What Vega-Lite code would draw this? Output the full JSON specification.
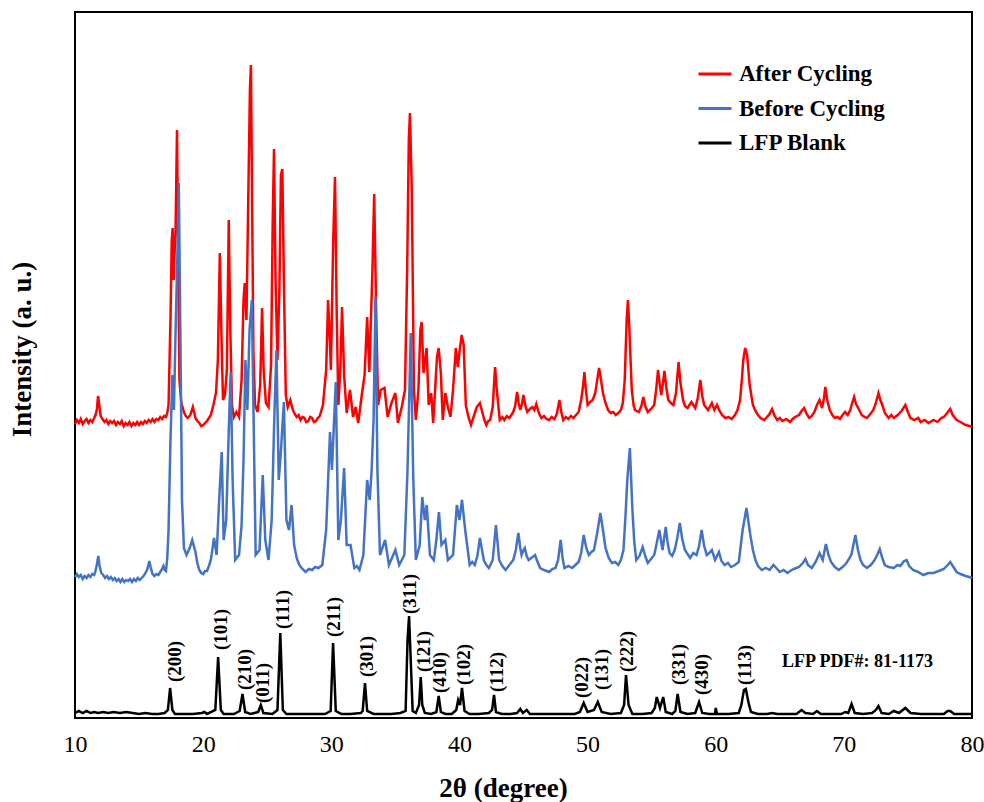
{
 "$schema": "https://vega.github.io/schema/vega-lite/v6.json",
 "width": 897,
 "height": 706,
 "autosize": "none",
 "padding": {"left": 75, "top": 12, "right": 12, "bottom": 84},
 "background": "white",
 "config": {"view": {"stroke": "black", "strokeWidth": 2}, "font": "Liberation Serif", "axis": {"grid": false}},
 "datasets": {
  "red": [
   {"x":10.0,"y":294},{"x":10.15,"y":298},{"x":10.3,"y":295},{"x":10.45,"y":299},{"x":10.6,"y":294},{"x":10.75,"y":297},{"x":10.9,"y":299},{"x":11.05,"y":295},{"x":11.2,"y":298},{"x":11.35,"y":296},{"x":11.5,"y":300},{"x":11.6,"y":303},{"x":11.7,"y":308},{"x":11.8,"y":322},{"x":11.9,"y":312},{"x":12.0,"y":302},{"x":12.15,"y":299},{"x":12.3,"y":296},{"x":12.45,"y":298},{"x":12.6,"y":294},{"x":12.75,"y":297},{"x":12.9,"y":295},{"x":13.05,"y":297},{"x":13.2,"y":293},{"x":13.35,"y":296},{"x":13.5,"y":294},{"x":13.65,"y":297},{"x":13.8,"y":292},{"x":13.95,"y":295},{"x":14.1,"y":293},{"x":14.25,"y":296},{"x":14.4,"y":292},{"x":14.55,"y":295},{"x":14.7,"y":293},{"x":14.85,"y":296},{"x":15.0,"y":293},{"x":15.15,"y":296},{"x":15.3,"y":294},{"x":15.45,"y":297},{"x":15.6,"y":295},{"x":15.75,"y":298},{"x":15.9,"y":296},{"x":16.05,"y":299},{"x":16.2,"y":296},{"x":16.35,"y":299},{"x":16.5,"y":298},{"x":16.65,"y":301},{"x":16.8,"y":299},{"x":16.95,"y":302},{"x":17.1,"y":301},{"x":17.2,"y":305},{"x":17.3,"y":313},{"x":17.45,"y":398},{"x":17.55,"y":478},{"x":17.62,"y":490},{"x":17.7,"y":438},{"x":17.78,"y":468},{"x":17.85,"y":488},{"x":17.96,"y":588},{"x":18.05,"y":468},{"x":18.15,"y":338},{"x":18.3,"y":315},{"x":18.5,"y":306},{"x":18.65,"y":302},{"x":18.8,"y":300},{"x":19.0,"y":303},{"x":19.2,"y":311},{"x":19.4,"y":300},{"x":19.55,"y":297},{"x":19.7,"y":295},{"x":19.85,"y":292},{"x":20.0,"y":293},{"x":20.15,"y":295},{"x":20.3,"y":297},{"x":20.45,"y":300},{"x":20.6,"y":303},{"x":20.8,"y":313},{"x":21.0,"y":325},{"x":21.15,"y":358},{"x":21.3,"y":465},{"x":21.42,"y":388},{"x":21.55,"y":318},{"x":21.7,"y":323},{"x":21.85,"y":348},{"x":22.0,"y":498},{"x":22.12,"y":388},{"x":22.25,"y":313},{"x":22.4,"y":301},{"x":22.6,"y":306},{"x":22.8,"y":301},{"x":23.0,"y":338},{"x":23.15,"y":418},{"x":23.25,"y":435},{"x":23.38,"y":398},{"x":23.52,"y":518},{"x":23.65,"y":628},{"x":23.73,"y":653},{"x":23.82,"y":518},{"x":23.92,"y":368},{"x":24.05,"y":313},{"x":24.25,"y":306},{"x":24.45,"y":333},{"x":24.6,"y":410},{"x":24.72,"y":348},{"x":24.9,"y":315},{"x":25.1,"y":311},{"x":25.3,"y":353},{"x":25.43,"y":498},{"x":25.53,"y":569},{"x":25.65,"y":438},{"x":25.8,"y":358},{"x":25.95,"y":428},{"x":26.07,"y":543},{"x":26.18,"y":549},{"x":26.3,"y":438},{"x":26.45,"y":323},{"x":26.6,"y":311},{"x":26.8,"y":318},{"x":27.0,"y":308},{"x":27.15,"y":304},{"x":27.3,"y":301},{"x":27.45,"y":303},{"x":27.6,"y":298},{"x":27.75,"y":301},{"x":27.9,"y":300},{"x":28.05,"y":296},{"x":28.2,"y":297},{"x":28.35,"y":301},{"x":28.5,"y":300},{"x":28.65,"y":296},{"x":28.8,"y":297},{"x":28.95,"y":300},{"x":29.1,"y":302},{"x":29.35,"y":313},{"x":29.6,"y":348},{"x":29.75,"y":418},{"x":29.87,"y":383},{"x":29.97,"y":348},{"x":30.15,"y":478},{"x":30.29,"y":541},{"x":30.42,"y":408},{"x":30.55,"y":313},{"x":30.7,"y":348},{"x":30.84,"y":411},{"x":31.0,"y":343},{"x":31.2,"y":305},{"x":31.46,"y":328},{"x":31.7,"y":301},{"x":31.9,"y":311},{"x":32.1,"y":295},{"x":32.4,"y":325},{"x":32.6,"y":343},{"x":32.8,"y":401},{"x":32.97,"y":346},{"x":33.2,"y":443},{"x":33.35,"y":524},{"x":33.5,"y":408},{"x":33.65,"y":313},{"x":33.85,"y":328},{"x":34.15,"y":330},{"x":34.4,"y":301},{"x":34.7,"y":315},{"x":35.0,"y":325},{"x":35.2,"y":295},{"x":35.5,"y":311},{"x":35.75,"y":328},{"x":35.92,"y":448},{"x":36.05,"y":578},{"x":36.14,"y":605},{"x":36.28,"y":528},{"x":36.45,"y":328},{"x":36.6,"y":298},{"x":36.8,"y":328},{"x":36.95,"y":388},{"x":37.05,"y":396},{"x":37.2,"y":345},{"x":37.44,"y":370},{"x":37.6,"y":313},{"x":37.8,"y":325},{"x":37.95,"y":295},{"x":38.1,"y":328},{"x":38.25,"y":361},{"x":38.38,"y":370},{"x":38.55,"y":345},{"x":38.7,"y":298},{"x":38.9,"y":325},{"x":39.1,"y":311},{"x":39.3,"y":301},{"x":39.5,"y":328},{"x":39.72,"y":370},{"x":39.87,"y":351},{"x":40.02,"y":368},{"x":40.18,"y":383},{"x":40.33,"y":373},{"x":40.5,"y":313},{"x":40.7,"y":301},{"x":40.9,"y":293},{"x":41.1,"y":301},{"x":41.35,"y":311},{"x":41.6,"y":315},{"x":41.8,"y":305},{"x":41.95,"y":298},{"x":42.1,"y":293},{"x":42.25,"y":297},{"x":42.4,"y":298},{"x":42.6,"y":311},{"x":42.78,"y":351},{"x":42.95,"y":323},{"x":43.15,"y":298},{"x":43.35,"y":301},{"x":43.5,"y":298},{"x":43.7,"y":302},{"x":43.9,"y":300},{"x":44.05,"y":303},{"x":44.2,"y":306},{"x":44.35,"y":312},{"x":44.5,"y":326},{"x":44.62,"y":315},{"x":44.75,"y":308},{"x":44.88,"y":314},{"x":45.0,"y":323},{"x":45.15,"y":312},{"x":45.3,"y":306},{"x":45.5,"y":309},{"x":45.7,"y":311},{"x":45.85,"y":308},{"x":46.0,"y":314},{"x":46.2,"y":305},{"x":46.4,"y":300},{"x":46.6,"y":302},{"x":46.8,"y":299},{"x":47.0,"y":298},{"x":47.2,"y":301},{"x":47.4,"y":299},{"x":47.6,"y":304},{"x":47.8,"y":318},{"x":47.95,"y":306},{"x":48.1,"y":298},{"x":48.3,"y":301},{"x":48.5,"y":299},{"x":48.7,"y":302},{"x":48.9,"y":300},{"x":49.1,"y":303},{"x":49.3,"y":306},{"x":49.5,"y":318},{"x":49.65,"y":332},{"x":49.75,"y":346},{"x":49.87,"y":328},{"x":50.0,"y":313},{"x":50.2,"y":316},{"x":50.4,"y":318},{"x":50.6,"y":325},{"x":50.75,"y":338},{"x":50.9,"y":350},{"x":51.05,"y":338},{"x":51.2,"y":325},{"x":51.4,"y":315},{"x":51.6,"y":308},{"x":51.8,"y":305},{"x":52.0,"y":306},{"x":52.2,"y":303},{"x":52.4,"y":305},{"x":52.6,"y":308},{"x":52.75,"y":315},{"x":52.9,"y":338},{"x":53.05,"y":398},{"x":53.15,"y":418},{"x":53.25,"y":392},{"x":53.35,"y":360},{"x":53.45,"y":328},{"x":53.6,"y":312},{"x":53.7,"y":308},{"x":54.0,"y":306},{"x":54.2,"y":312},{"x":54.35,"y":321},{"x":54.5,"y":312},{"x":54.7,"y":306},{"x":54.95,"y":309},{"x":55.2,"y":313},{"x":55.35,"y":328},{"x":55.5,"y":348},{"x":55.62,"y":335},{"x":55.75,"y":323},{"x":55.88,"y":335},{"x":56.0,"y":347},{"x":56.15,"y":330},{"x":56.3,"y":318},{"x":56.5,"y":315},{"x":56.7,"y":313},{"x":56.9,"y":325},{"x":57.1,"y":356},{"x":57.25,"y":335},{"x":57.45,"y":318},{"x":57.6,"y":312},{"x":57.8,"y":310},{"x":58.1,"y":316},{"x":58.4,"y":310},{"x":58.6,"y":320},{"x":58.8,"y":338},{"x":58.95,"y":322},{"x":59.1,"y":313},{"x":59.4,"y":308},{"x":59.7,"y":315},{"x":59.9,"y":308},{"x":60.1,"y":313},{"x":60.3,"y":307},{"x":60.5,"y":303},{"x":60.75,"y":300},{"x":61.0,"y":301},{"x":61.25,"y":299},{"x":61.5,"y":303},{"x":61.7,"y":308},{"x":61.9,"y":318},{"x":62.05,"y":340},{"x":62.15,"y":358},{"x":62.3,"y":370},{"x":62.45,"y":363},{"x":62.65,"y":333},{"x":62.9,"y":313},{"x":63.1,"y":307},{"x":63.3,"y":303},{"x":63.5,"y":300},{"x":63.8,"y":298},{"x":64.0,"y":301},{"x":64.2,"y":304},{"x":64.4,"y":309},{"x":64.6,"y":302},{"x":64.8,"y":298},{"x":65.0,"y":300},{"x":65.2,"y":297},{"x":65.5,"y":299},{"x":65.8,"y":296},{"x":66.0,"y":299},{"x":66.2,"y":301},{"x":66.5,"y":303},{"x":66.7,"y":307},{"x":66.9,"y":310},{"x":67.1,"y":304},{"x":67.3,"y":300},{"x":67.5,"y":302},{"x":67.7,"y":306},{"x":67.9,"y":313},{"x":68.1,"y":318},{"x":68.3,"y":310},{"x":68.45,"y":320},{"x":68.55,"y":331},{"x":68.7,"y":318},{"x":68.9,"y":308},{"x":69.1,"y":303},{"x":69.3,"y":300},{"x":69.5,"y":301},{"x":69.7,"y":299},{"x":69.9,"y":303},{"x":70.1,"y":306},{"x":70.3,"y":303},{"x":70.5,"y":308},{"x":70.65,"y":315},{"x":70.8,"y":321},{"x":70.95,"y":314},{"x":71.2,"y":308},{"x":71.4,"y":303},{"x":71.6,"y":301},{"x":71.8,"y":300},{"x":72.0,"y":303},{"x":72.3,"y":308},{"x":72.5,"y":315},{"x":72.7,"y":325},{"x":72.85,"y":318},{"x":73.0,"y":313},{"x":73.2,"y":305},{"x":73.5,"y":300},{"x":73.7,"y":303},{"x":73.9,"y":300},{"x":74.2,"y":303},{"x":74.5,"y":307},{"x":74.8,"y":313},{"x":75.0,"y":306},{"x":75.2,"y":300},{"x":75.5,"y":298},{"x":75.8,"y":300},{"x":76.0,"y":296},{"x":76.3,"y":298},{"x":76.6,"y":295},{"x":77.0,"y":298},{"x":77.3,"y":296},{"x":77.6,"y":300},{"x":77.8,"y":301},{"x":78.0,"y":304},{"x":78.3,"y":309},{"x":78.5,"y":303},{"x":78.8,"y":298},{"x":79.1,"y":296},{"x":79.5,"y":293},{"x":79.8,"y":292},{"x":80.0,"y":291}
  ],
  "blue": [
   {"x":10.0,"y":141},{"x":10.15,"y":144},{"x":10.3,"y":141},{"x":10.45,"y":143},{"x":10.6,"y":139},{"x":10.75,"y":142},{"x":10.9,"y":140},{"x":11.05,"y":143},{"x":11.2,"y":141},{"x":11.35,"y":144},{"x":11.5,"y":143},{"x":11.6,"y":147},{"x":11.7,"y":153},{"x":11.82,"y":162},{"x":11.92,"y":152},{"x":12.05,"y":145},{"x":12.2,"y":143},{"x":12.35,"y":140},{"x":12.5,"y":142},{"x":12.65,"y":139},{"x":12.8,"y":141},{"x":12.95,"y":138},{"x":13.1,"y":140},{"x":13.25,"y":137},{"x":13.4,"y":139},{"x":13.55,"y":136},{"x":13.7,"y":139},{"x":13.85,"y":136},{"x":14.0,"y":138},{"x":14.15,"y":137},{"x":14.3,"y":139},{"x":14.45,"y":136},{"x":14.6,"y":139},{"x":14.75,"y":137},{"x":14.9,"y":140},{"x":15.05,"y":138},{"x":15.2,"y":140},{"x":15.35,"y":142},{"x":15.5,"y":145},{"x":15.65,"y":149},{"x":15.8,"y":157},{"x":15.92,"y":150},{"x":16.05,"y":144},{"x":16.2,"y":142},{"x":16.35,"y":144},{"x":16.5,"y":143},{"x":16.65,"y":146},{"x":16.8,"y":149},{"x":16.9,"y":152},{"x":17.0,"y":148},{"x":17.1,"y":147},{"x":17.2,"y":160},{"x":17.3,"y":188},{"x":17.45,"y":278},{"x":17.6,"y":343},{"x":17.72,"y":308},{"x":17.85,"y":388},{"x":18.0,"y":468},{"x":18.1,"y":535},{"x":18.22,"y":388},{"x":18.35,"y":218},{"x":18.5,"y":170},{"x":18.7,"y":163},{"x":18.95,"y":170},{"x":19.15,"y":178},{"x":19.4,"y":166},{"x":19.55,"y":155},{"x":19.7,"y":148},{"x":19.85,"y":145},{"x":20.0,"y":144},{"x":20.15,"y":147},{"x":20.3,"y":147},{"x":20.45,"y":152},{"x":20.6,"y":158},{"x":20.85,"y":180},{"x":21.05,"y":163},{"x":21.25,"y":218},{"x":21.45,"y":266},{"x":21.6,"y":178},{"x":21.8,"y":198},{"x":22.0,"y":288},{"x":22.15,"y":346},{"x":22.3,"y":238},{"x":22.5,"y":158},{"x":22.8,"y":163},{"x":23.0,"y":193},{"x":23.15,"y":258},{"x":23.3,"y":358},{"x":23.45,"y":308},{"x":23.62,"y":388},{"x":23.8,"y":418},{"x":23.95,"y":288},{"x":24.1,"y":163},{"x":24.4,"y":168},{"x":24.65,"y":243},{"x":24.85,"y":178},{"x":25.1,"y":158},{"x":25.35,"y":198},{"x":25.55,"y":298},{"x":25.72,"y":368},{"x":25.9,"y":238},{"x":26.05,"y":263},{"x":26.3,"y":316},{"x":26.5,"y":198},{"x":26.7,"y":188},{"x":26.9,"y":213},{"x":27.1,"y":173},{"x":27.3,"y":160},{"x":27.5,"y":153},{"x":27.75,"y":149},{"x":28.0,"y":146},{"x":28.25,"y":149},{"x":28.5,"y":148},{"x":28.75,"y":151},{"x":29.0,"y":150},{"x":29.3,"y":153},{"x":29.6,"y":188},{"x":29.9,"y":286},{"x":30.05,"y":248},{"x":30.35,"y":336},{"x":30.55,"y":178},{"x":30.75,"y":198},{"x":31.0,"y":250},{"x":31.2,"y":173},{"x":31.5,"y":173},{"x":31.8,"y":150},{"x":32.0,"y":152},{"x":32.2,"y":148},{"x":32.5,"y":163},{"x":32.8,"y":238},{"x":33.0,"y":218},{"x":33.15,"y":248},{"x":33.3,"y":298},{"x":33.45,"y":421},{"x":33.6,"y":248},{"x":33.8,"y":163},{"x":34.2,"y":178},{"x":34.5,"y":153},{"x":35.0,"y":168},{"x":35.3,"y":153},{"x":35.7,"y":163},{"x":35.95,"y":248},{"x":36.2,"y":385},{"x":36.4,"y":238},{"x":36.6,"y":158},{"x":36.9,"y":173},{"x":37.1,"y":221},{"x":37.3,"y":198},{"x":37.45,"y":213},{"x":37.7,"y":163},{"x":38.0,"y":158},{"x":38.2,"y":178},{"x":38.4,"y":206},{"x":38.6,"y":173},{"x":38.9,"y":178},{"x":39.1,"y":158},{"x":39.5,"y":163},{"x":39.8,"y":213},{"x":40.0,"y":198},{"x":40.2,"y":218},{"x":40.45,"y":188},{"x":40.8,"y":153},{"x":41.0,"y":156},{"x":41.2,"y":153},{"x":41.4,"y":162},{"x":41.6,"y":180},{"x":41.9,"y":158},{"x":42.1,"y":153},{"x":42.3,"y":150},{"x":42.6,"y":158},{"x":42.85,"y":193},{"x":43.1,"y":158},{"x":43.35,"y":152},{"x":43.6,"y":148},{"x":43.9,"y":153},{"x":44.2,"y":158},{"x":44.4,"y":168},{"x":44.6,"y":185},{"x":44.75,"y":170},{"x":44.85,"y":163},{"x":45.0,"y":168},{"x":45.1,"y":170},{"x":45.25,"y":162},{"x":45.4,"y":158},{"x":45.6,"y":160},{"x":45.9,"y":163},{"x":46.1,"y":156},{"x":46.3,"y":150},{"x":46.6,"y":148},{"x":47.0,"y":146},{"x":47.25,"y":149},{"x":47.5,"y":150},{"x":47.7,"y":158},{"x":47.9,"y":178},{"x":48.05,"y":160},{"x":48.2,"y":150},{"x":48.5,"y":152},{"x":48.8,"y":150},{"x":49.05,"y":153},{"x":49.3,"y":156},{"x":49.5,"y":165},{"x":49.7,"y":183},{"x":49.9,"y":170},{"x":50.1,"y":163},{"x":50.3,"y":166},{"x":50.5,"y":168},{"x":50.75,"y":185},{"x":51.0,"y":205},{"x":51.2,"y":188},{"x":51.4,"y":170},{"x":51.65,"y":160},{"x":51.9,"y":155},{"x":52.15,"y":156},{"x":52.4,"y":153},{"x":52.6,"y":158},{"x":52.8,"y":168},{"x":52.95,"y":200},{"x":53.1,"y":238},{"x":53.3,"y":270},{"x":53.5,"y":208},{"x":53.65,"y":175},{"x":53.8,"y":158},{"x":54.05,"y":162},{"x":54.3,"y":171},{"x":54.5,"y":162},{"x":54.7,"y":155},{"x":54.95,"y":159},{"x":55.2,"y":163},{"x":55.4,"y":175},{"x":55.6,"y":188},{"x":55.85,"y":168},{"x":56.1,"y":191},{"x":56.25,"y":175},{"x":56.4,"y":165},{"x":56.6,"y":162},{"x":56.8,"y":168},{"x":57.0,"y":180},{"x":57.2,"y":195},{"x":57.4,"y":178},{"x":57.6,"y":168},{"x":58.0,"y":160},{"x":58.25,"y":165},{"x":58.5,"y":163},{"x":58.7,"y":172},{"x":58.9,"y":188},{"x":59.1,"y":172},{"x":59.3,"y":163},{"x":59.5,"y":165},{"x":59.7,"y":168},{"x":59.95,"y":158},{"x":60.25,"y":166},{"x":60.45,"y":157},{"x":60.7,"y":153},{"x":60.95,"y":155},{"x":61.2,"y":151},{"x":61.5,"y":153},{"x":61.8,"y":156},{"x":62.1,"y":188},{"x":62.4,"y":210},{"x":62.7,"y":183},{"x":62.9,"y":168},{"x":63.1,"y":158},{"x":63.3,"y":152},{"x":63.6,"y":148},{"x":63.9,"y":150},{"x":64.2,"y":148},{"x":64.5,"y":153},{"x":64.8,"y":149},{"x":65.0,"y":146},{"x":65.3,"y":148},{"x":65.6,"y":145},{"x":65.8,"y":147},{"x":66.1,"y":149},{"x":66.5,"y":151},{"x":66.8,"y":155},{"x":67.0,"y":159},{"x":67.2,"y":153},{"x":67.5,"y":150},{"x":67.8,"y":156},{"x":68.1,"y":165},{"x":68.35,"y":158},{"x":68.6,"y":174},{"x":68.8,"y":163},{"x":69.0,"y":156},{"x":69.3,"y":151},{"x":69.6,"y":148},{"x":69.9,"y":151},{"x":70.2,"y":155},{"x":70.45,"y":160},{"x":70.6,"y":164},{"x":70.9,"y":183},{"x":71.1,"y":168},{"x":71.3,"y":158},{"x":71.5,"y":153},{"x":71.8,"y":150},{"x":72.1,"y":153},{"x":72.4,"y":158},{"x":72.6,"y":163},{"x":72.8,"y":169},{"x":73.0,"y":160},{"x":73.2,"y":153},{"x":73.5,"y":151},{"x":73.9,"y":150},{"x":74.2,"y":153},{"x":74.4,"y":152},{"x":74.7,"y":157},{"x":74.9,"y":158},{"x":75.1,"y":152},{"x":75.4,"y":148},{"x":75.8,"y":146},{"x":76.2,"y":143},{"x":76.6,"y":145},{"x":77.0,"y":145},{"x":77.4,"y":147},{"x":77.8,"y":149},{"x":78.1,"y":153},{"x":78.3,"y":156},{"x":78.5,"y":152},{"x":78.8,"y":146},{"x":79.1,"y":144},{"x":79.5,"y":142},{"x":79.8,"y":141},{"x":80.0,"y":140}
  ],
  "black": [
   {"x":10.0,"y":5},{"x":10.3,"y":7},{"x":10.6,"y":5},{"x":10.9,"y":7},{"x":11.2,"y":5},{"x":11.5,"y":6},{"x":11.8,"y":5},{"x":12.2,"y":6},{"x":12.6,"y":5},{"x":13.0,"y":6},{"x":13.5,"y":5},{"x":14.0,"y":6},{"x":14.5,"y":5},{"x":15.0,"y":4},{"x":15.5,"y":5},{"x":16.0,"y":4},{"x":16.5,"y":4},{"x":17.0,"y":5},{"x":17.25,"y":8},{"x":17.42,"y":30},{"x":17.6,"y":8},{"x":17.8,"y":4},{"x":18.5,"y":4},{"x":19.2,"y":4},{"x":19.9,"y":5},{"x":20.1,"y":6},{"x":20.3,"y":4},{"x":20.95,"y":8},{"x":21.17,"y":61},{"x":21.38,"y":8},{"x":21.6,"y":4},{"x":22.4,"y":4},{"x":22.85,"y":7},{"x":23.07,"y":24},{"x":23.28,"y":6},{"x":23.7,"y":4},{"x":24.3,"y":6},{"x":24.5,"y":13},{"x":24.7,"y":5},{"x":25.4,"y":4},{"x":25.8,"y":8},{"x":26.02,"y":85},{"x":26.22,"y":8},{"x":26.5,"y":4},{"x":27.5,"y":4},{"x":28.5,"y":4},{"x":29.5,"y":4},{"x":29.95,"y":7},{"x":30.14,"y":75},{"x":30.35,"y":7},{"x":30.8,"y":4},{"x":31.5,"y":4},{"x":32.3,"y":5},{"x":32.45,"y":7},{"x":32.63,"y":35},{"x":32.8,"y":7},{"x":33.3,"y":4},{"x":34.0,"y":4},{"x":34.7,"y":4},{"x":35.4,"y":5},{"x":35.8,"y":7},{"x":35.95,"y":78},{"x":36.07,"y":102},{"x":36.2,"y":58},{"x":36.35,"y":7},{"x":36.6,"y":5},{"x":36.85,"y":13},{"x":36.98,"y":41},{"x":37.1,"y":13},{"x":37.3,"y":5},{"x":37.8,"y":4},{"x":38.2,"y":6},{"x":38.38,"y":22},{"x":38.55,"y":6},{"x":38.9,"y":4},{"x":39.4,"y":4},{"x":39.75,"y":8},{"x":39.9,"y":18},{"x":40.05,"y":13},{"x":40.2,"y":30},{"x":40.4,"y":7},{"x":40.8,"y":4},{"x":41.5,"y":4},{"x":42.3,"y":5},{"x":42.55,"y":8},{"x":42.7,"y":23},{"x":42.85,"y":6},{"x":43.3,"y":4},{"x":44.0,"y":4},{"x":44.5,"y":5},{"x":44.75,"y":9},{"x":44.95,"y":5},{"x":45.25,"y":8},{"x":45.5,"y":4},{"x":46.2,"y":4},{"x":47.0,"y":4},{"x":48.0,"y":4},{"x":49.0,"y":4},{"x":49.4,"y":6},{"x":49.7,"y":15},{"x":50.0,"y":6},{"x":50.5,"y":8},{"x":50.8,"y":16},{"x":51.1,"y":6},{"x":51.8,"y":4},{"x":52.6,"y":5},{"x":52.85,"y":13},{"x":53.0,"y":43},{"x":53.2,"y":13},{"x":53.5,"y":4},{"x":54.3,"y":4},{"x":55.0,"y":5},{"x":55.25,"y":10},{"x":55.4,"y":21},{"x":55.65,"y":10},{"x":55.9,"y":21},{"x":56.1,"y":6},{"x":56.6,"y":4},{"x":56.85,"y":7},{"x":57.03,"y":24},{"x":57.25,"y":6},{"x":57.8,"y":4},{"x":58.4,"y":5},{"x":58.7,"y":16},{"x":58.95,"y":5},{"x":59.5,"y":4},{"x":59.95,"y":4},{"x":60.0,"y":10},{"x":60.1,"y":4},{"x":61.0,"y":4},{"x":61.8,"y":5},{"x":62.0,"y":13},{"x":62.2,"y":28},{"x":62.35,"y":29},{"x":62.55,"y":16},{"x":62.75,"y":6},{"x":63.3,"y":4},{"x":64.0,"y":4},{"x":64.4,"y":5},{"x":64.8,"y":4},{"x":65.6,"y":4},{"x":66.3,"y":4},{"x":66.7,"y":8},{"x":67.0,"y":5},{"x":67.6,"y":4},{"x":67.9,"y":7},{"x":68.2,"y":4},{"x":69.0,"y":4},{"x":69.8,"y":4},{"x":70.1,"y":6},{"x":70.35,"y":5},{"x":70.6,"y":14},{"x":70.85,"y":5},{"x":71.5,"y":4},{"x":72.2,"y":5},{"x":72.5,"y":8},{"x":72.7,"y":12},{"x":72.95,"y":5},{"x":73.5,"y":4},{"x":73.9,"y":7},{"x":74.3,"y":5},{"x":74.8,"y":10},{"x":75.2,"y":5},{"x":76.0,"y":4},{"x":77.0,"y":4},{"x":77.8,"y":4},{"x":78.1,"y":7},{"x":78.3,"y":7},{"x":78.6,"y":4},{"x":79.3,"y":4},{"x":80.0,"y":4}
  ],
  "hkl": [
   {"x":17.8,"y":36,"t":"(200)"},{"x":21.39,"y":68,"t":"(101)"},{"x":23.27,"y":28,"t":"(210)"},{"x":24.67,"y":15,"t":"(011)"},{"x":26.23,"y":89,"t":"(111)"},{"x":30.21,"y":81,"t":"(211)"},{"x":32.79,"y":41,"t":"(301)"},{"x":36.14,"y":104,"t":"(311)"},{"x":37.24,"y":46,"t":"(121)"},{"x":38.48,"y":25,"t":"(410)"},{"x":40.36,"y":33,"t":"(102)"},{"x":42.93,"y":26,"t":"(112)"},{"x":49.54,"y":20,"t":"(022)"},{"x":51.1,"y":28,"t":"(131)"},{"x":53.05,"y":46,"t":"(222)"},{"x":57.14,"y":33,"t":"(331)"},{"x":58.91,"y":23,"t":"(430)"},{"x":62.29,"y":33,"t":"(113)"}
  ],
  "note": [{"x":65.17,"y":56,"t":"LFP PDF#: 81-1173"}]
 },
 "encoding": {
  "x": {"field": "x", "type": "quantitative", "scale": {"domain": [10, 80], "nice": false, "zero": false},
   "axis": {"values": [10, 20, 30, 40, 50, 60, 70, 80], "format": "d", "ticks": false, "domain": false, "labelFontSize": 24, "labelFont": "Liberation Serif", "labelColor": "black", "labelPadding": 14, "labelFlush": false, "labelOverlap": false,
    "title": "2θ (degree)", "titleFont": "Liberation Serif", "titleFontSize": 27, "titleFontWeight": "bold", "titleColor": "black", "titleX": 428, "titleY": 70, "titleAlign": "center", "titleBaseline": "middle"}},
  "y": {"field": "y", "type": "quantitative", "scale": {"domain": [0, 706], "nice": false, "zero": false},
   "axis": {"labels": false, "ticks": false, "domain": false, "title": "Intensity (a. u.)", "titleFont": "Liberation Serif", "titleFontSize": 27, "titleFontWeight": "bold", "titleColor": "black", "titleAngle": 270, "titleX": -53, "titleY": 337, "titleAlign": "center", "titleBaseline": "middle"}}
 },
 "layer": [
  {"data": {"name": "red"}, "mark": {"type": "line", "strokeWidth": 2.5},
   "encoding": {"color": {"datum": "After Cycling", "type": "nominal",
    "scale": {"domain": ["After Cycling", "Before Cycling", "LFP Blank"], "range": ["#FF0000", "#4472C4", "#000000"]},
    "legend": {"title": null, "orient": "none", "legendX": 622, "legendY": 44, "padding": 0, "symbolType": "stroke", "symbolSize": 1089, "symbolStrokeWidth": 3, "labelFont": "Liberation Serif", "labelFontSize": 23, "labelFontWeight": "bold", "labelColor": "black", "labelOffset": 6, "rowPadding": 4.5}}}},
  {"data": {"name": "blue"}, "mark": {"type": "line", "strokeWidth": 2.5}, "encoding": {"color": {"datum": "Before Cycling", "type": "nominal"}}},
  {"data": {"name": "black"}, "mark": {"type": "line", "strokeWidth": 2.5}, "encoding": {"color": {"datum": "LFP Blank", "type": "nominal"}}},
  {"data": {"name": "hkl"}, "mark": {"type": "text", "angle": 270, "align": "left", "baseline": "middle", "font": "Liberation Serif", "fontSize": 19, "fontWeight": "bold", "color": "black"}, "encoding": {"text": {"field": "t"}}},
  {"data": {"name": "note"}, "mark": {"type": "text", "align": "left", "baseline": "middle", "font": "Liberation Serif", "fontSize": 18, "fontWeight": "bold", "color": "black"}, "encoding": {"text": {"field": "t"}}}
 ]
}
